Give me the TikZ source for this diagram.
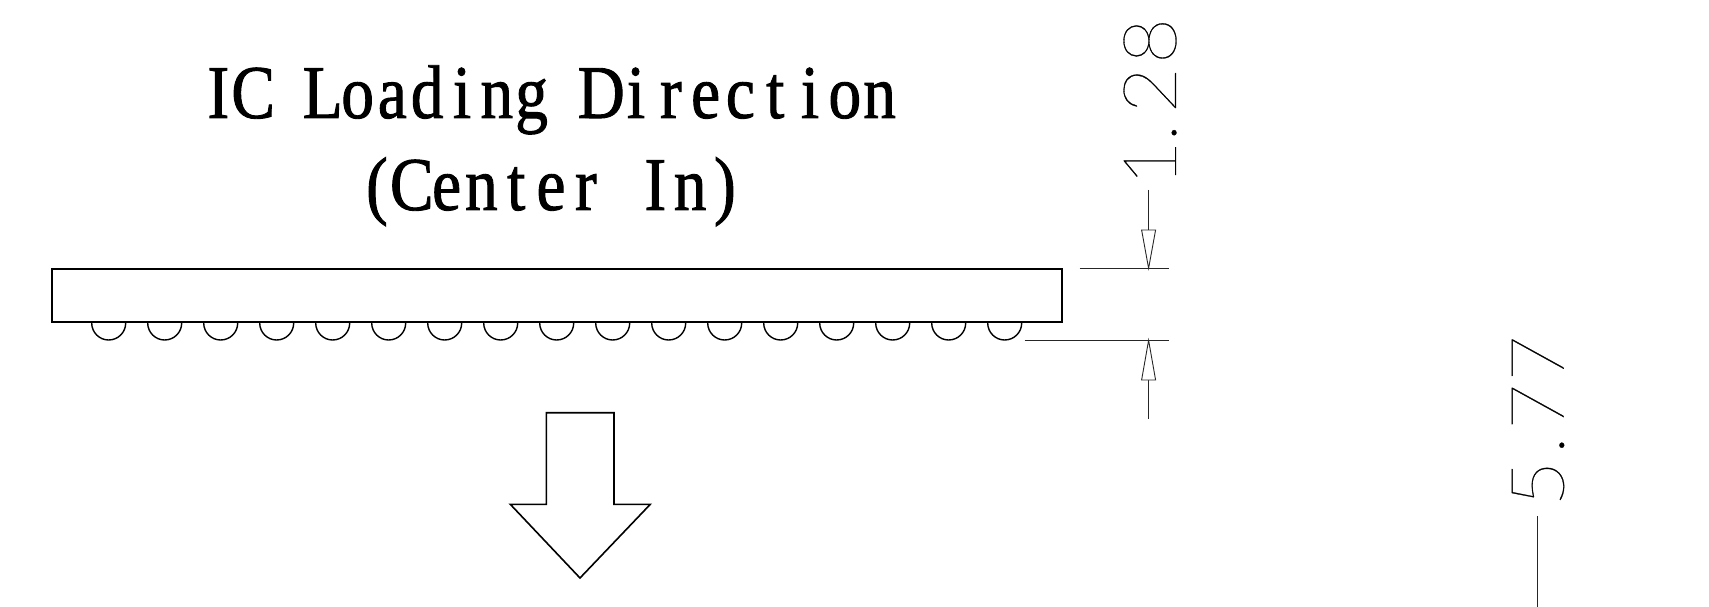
\documentclass[tikz,border=0pt]{standalone}
\usepackage{fontspec}
\setmainfont{Liberation Serif}
\newfontfamily\titlef[FakeStretch=0.86,FakeBold=1.2]{Liberation Serif}
\newfontfamily\dimf[UprightFont={* Thin},FakeStretch=1.08,FakeBold=0.4]{Lato}
\makeatletter
\newcommand{\monochar}[1]{\hbox to 34.8pt{\hss#1\hss}}
\newcommand{\monoword}[1]{\@tfor\mc@c:=#1\do{\monochar{\mc@c}}}
\makeatother
\newcommand{\monogap}{\hbox to 34.8pt{\hss}}
\tikzset{
  part/.style={draw=black,line width=1.6pt,line join=miter},
  dimline/.style={draw=black!85,line width=0.9pt},
  dimhead/.style={draw=black!85,line width=0.9pt,fill=white,line join=miter},
  titletext/.style={inner sep=0pt,font=\titlef\fontsize{76pt}{76pt}\selectfont,anchor=base},
  dimtext/.style={inner sep=0pt,rotate=90,anchor=center,font=\dimf\fontsize{74pt}{74pt}\selectfont},
}
\begin{document}
\begin{tikzpicture}[x=1pt,y=-1pt]
\useasboundingbox (0,0) rectangle (1709,607);
\node[titletext] (title1) at (549,118) {\hbox{\monoword{IC}\monogap\monoword{Loading}\monogap\monoword{Direction}}};
\node[titletext] (title2) at (551,210) {\hbox{\monoword{(Center}\monogap\monoword{In)}}};
\node[part,rectangle,minimum width=1010pt,minimum height=53.5pt,inner sep=0pt,fill=white] (body) at (557,295.5) {};
\foreach \i in {0,...,16}{
  \pgfmathsetmacro{\bx}{108.7+56*\i}
  \draw[line width=1.4pt] (\bx-17,322) -- (\bx-17,323) arc[start angle=180,end angle=360,radius=17pt] -- (\bx+17,322);
}
\draw[part] (546.3,412.7) -- (614,412.7) -- (614,504.3) -- (650.3,504.3) -- (580,578) -- (510.3,504.3) -- (546.3,504.3) -- cycle;
\coordinate (e1a) at (1079.5,268.3);
\coordinate (e1b) at (1169,268.3);
\coordinate (e2a) at (1024.5,340.3);
\coordinate (e2b) at (1169,340.3);
\coordinate (d1top) at (1148.6,190);
\coordinate (d1tip) at (1148.6,268.3);
\coordinate (d2tip) at (1148.6,340.3);
\coordinate (d2bot) at (1148.6,419.3);
\draw[dimline] (e1a) -- (e1b);
\draw[dimline] (e2a) -- (e2b);
\draw[dimline] (d1top) -- (d1tip);
\draw[dimline] (d2tip) -- (d2bot);
\draw[dimhead] (d1tip) -- (1141.6,230) -- (1155.6,230) -- cycle;
\draw[dimhead] (d2tip) -- (1141.6,380) -- (1155.6,380) -- cycle;
\node[dimtext] (dimA) at (1150,102) {1\kern-2pt.\kern10pt2\kern3pt8};
\node[dimtext] (dimB) at (1538,421) {5\kern6pt.\kern6pt7\kern2pt7};
\coordinate (d3top) at (1537,516);
\coordinate (d3bot) at (1537,607);
\draw[dimline] (d3top) -- (d3bot);
\end{tikzpicture}
\end{document}
